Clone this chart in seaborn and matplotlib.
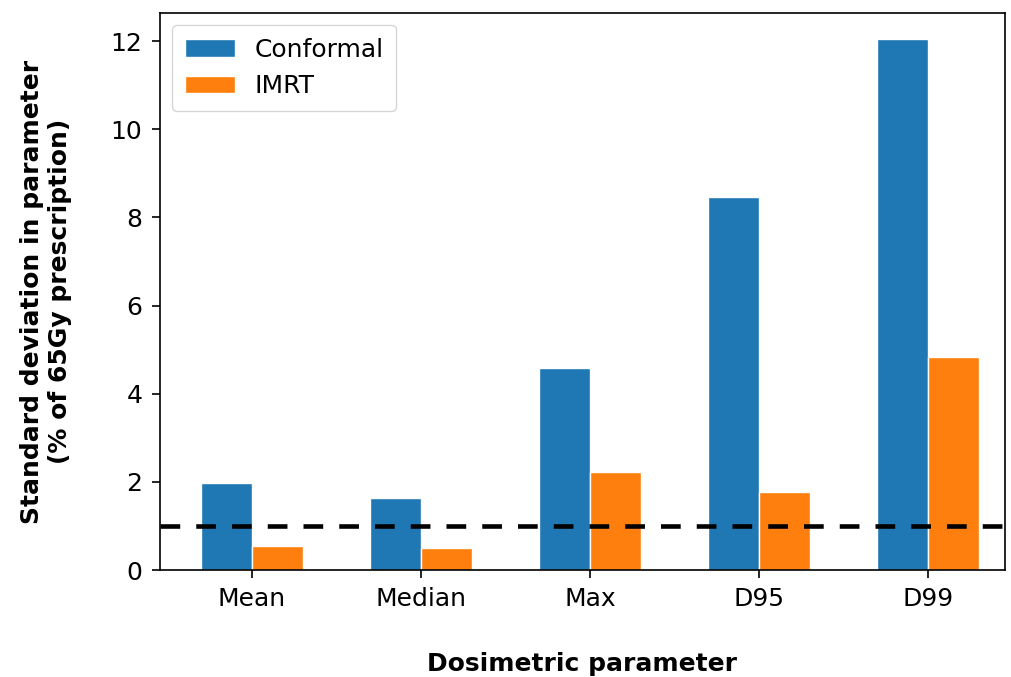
import pandas as pd
import seaborn as sns
import matplotlib.pyplot as plt

# Data
parameters = ['Mean', 'Median', 'Max', 'D95', 'D99']
conformal = [1.98, 1.64, 4.58, 8.47, 12.04]
imrt = [0.54, 0.50, 2.22, 1.78, 4.84]
threshold = 1.0

df = pd.DataFrame({
    'parameter': parameters * 2,
    'sd': conformal + imrt,
    'technique': ['Conformal'] * len(parameters) + ['IMRT'] * len(parameters),
})

sns.set_style('ticks')
plt.rcParams['font.family'] = ['DejaVu Sans']
plt.rcParams['text.color'] = 'black'
plt.rcParams['axes.labelcolor'] = 'black'

fig, ax = plt.subplots(figsize=(10.11, 6.77), dpi=100)

sns.barplot(data=df, x='parameter', y='sd', hue='technique',
            palette=['#1f77b4', '#ff7f0e'], width=0.6,
            edgecolor='white', linewidth=1, saturation=1, ax=ax)

# 1% reference line
ax.axhline(threshold, color='black', linestyle='--', linewidth=3.3, dashes=(4.3, 3.5))

ax.set_xlim(-0.545, 4.455)
ax.set_ylim(0, max(conformal) * 1.05)
ax.set_yticks([0, 2, 4, 6, 8, 10, 12])
ax.tick_params(labelsize=18, colors='black', length=6, width=1.2, pad=6.5)

ax.set_xlabel('Dosimetric parameter', fontsize=18, fontweight='bold', labelpad=29)
ax.set_ylabel('Standard deviation in parameter\n(% of 65Gy prescription)',
              fontsize=18, fontweight='bold', labelpad=28)

for s in ax.spines.values():
    s.set_color('black')
    s.set_linewidth(1.2)

ax.legend(title=None, loc='upper left', fontsize=18, borderpad=0.5,
          labelspacing=0.5, handletextpad=0.8)

fig.subplots_adjust(left=0.158, right=0.994, top=0.981, bottom=0.158)
fig.savefig('out.png')
